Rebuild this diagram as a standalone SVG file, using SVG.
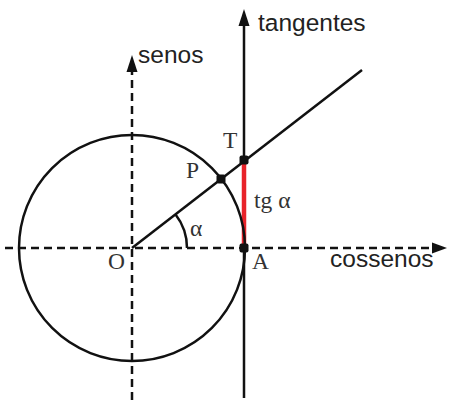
<svg xmlns="http://www.w3.org/2000/svg" width="449" height="401" viewBox="0 0 449 401">
<defs>
<style>
.ln{stroke:#111;stroke-width:2.5;fill:none}
.ds{stroke:#111;stroke-width:2.5;fill:none;stroke-dasharray:8 5}
.ah{fill:#111}
.sans{font-family:"Liberation Sans",Arial,sans-serif;font-size:24.5px;fill:#222}
.serif{font-family:"Liberation Serif","Times New Roman",serif;font-size:23.5px;fill:#333}
.pt{fill:#111}
</style>
</defs>
<rect width="449" height="401" fill="#fff"/>
<g id="connectors">
<line class="ds" x1="5" y1="248" x2="434" y2="248"/>
<polygon class="ah" points="447,248 432,242.5 432,253.5"/>
<line class="ds" x1="132" y1="400" x2="132" y2="70"/>
<polygon class="ah" points="132,55 126.5,72 137.5,72"/>
<line class="ln" x1="244" y1="398" x2="244" y2="22"/>
<polygon class="ah" points="244,9 238.5,26 249.5,26"/>
<line class="ln" x1="132" y1="248" x2="362" y2="70"/>
<path class="ln" d="M187,248 A55,55 0 0 0 175.4,214.2" stroke-width="2"/>
<line x1="244" y1="160" x2="244" y2="248" stroke="#e8232a" stroke-width="4.5"/>
</g>
<g id="circle">
<circle class="ln" cx="132" cy="248" r="113"/>
</g>
<g id="node-O"><text class="serif" x="108" y="269">O</text></g>
<g id="node-A"><rect class="pt" x="239.5" y="243.5" width="9" height="9" rx="2"/><text class="serif" x="252" y="269">A</text></g>
<g id="node-P"><rect class="pt" x="216.5" y="174.5" width="9" height="9" rx="2"/><text class="serif" x="186" y="178">P</text></g>
<g id="node-T"><rect class="pt" x="239.5" y="155.5" width="9" height="9" rx="2"/><text class="serif" x="223" y="148">T</text></g>
<g id="label-tg"><text class="serif" x="254" y="208">tg α</text></g>
<g id="label-alpha"><text class="serif" x="190" y="236">α</text></g>
<g id="label-senos"><text class="sans" x="138" y="63">senos</text></g>
<g id="label-tangentes"><text class="sans" x="258" y="31">tangentes</text></g>
<g id="label-cossenos"><text class="sans" x="330" y="267">cossenos</text></g>
</svg>
